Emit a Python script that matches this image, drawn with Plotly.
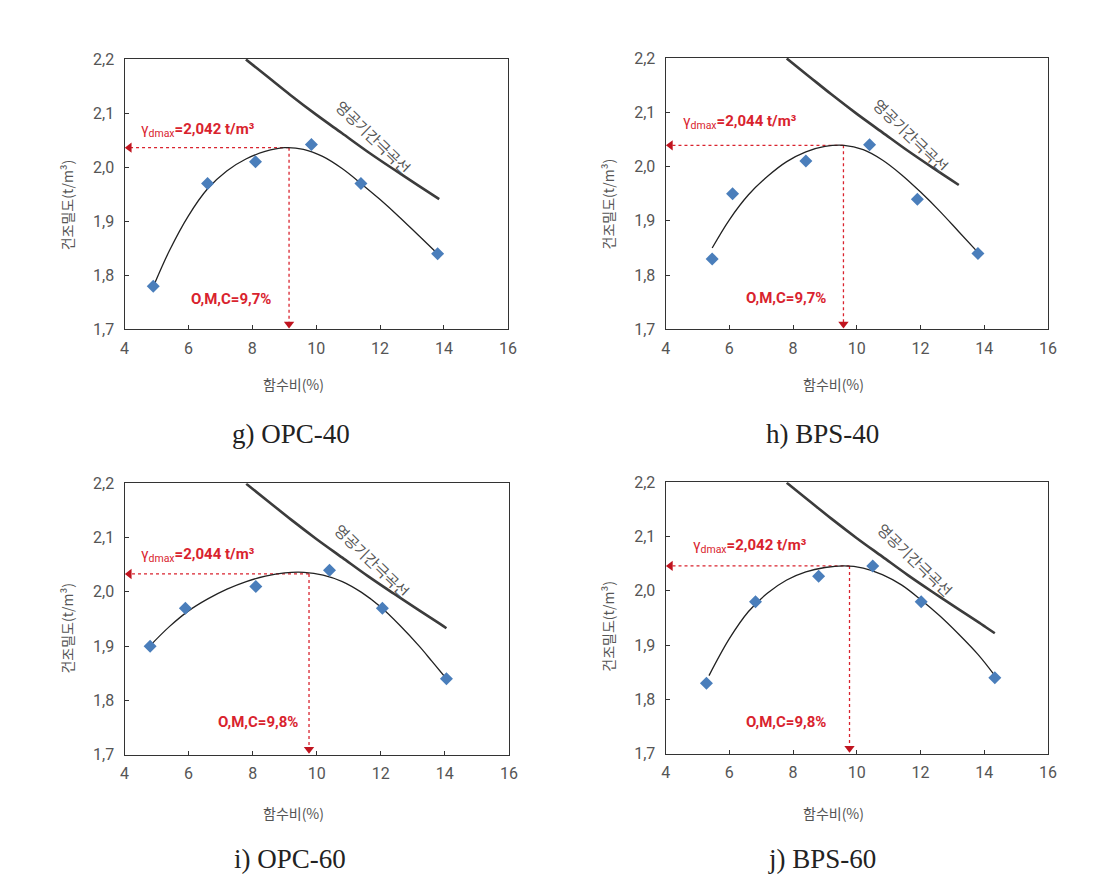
import plotly.graph_objects as go

# ---------------- data ----------------
x_tick_vals = [4, 6, 8, 10, 12, 14, 16]
y_tick_vals = [1.7, 1.8, 1.9, 2.0, 2.1, 2.2]
y_tick_text = ["1,7", "1,8", "1,9", "2,0", "2,1", "2,2"]

panel_names = ["g) OPC-40", "h) BPS-40", "i) OPC-60", "j) BPS-60"]
gamma_labels = ["2,042", "2,044", "2,044", "2,042"]
omc_labels = ["O,M,C=9,7%", "O,M,C=9,7%", "O,M,C=9,8%", "O,M,C=9,8%"]

# measured points (water content %, dry density t/m3)
g_w = [4.9, 6.6, 8.1, 9.85, 11.4, 13.8]
g_d = [1.78, 1.97, 2.01, 2.042, 1.97, 1.84]
h_w = [5.46, 6.1, 8.4, 10.4, 11.9, 13.8]
h_d = [1.83, 1.95, 2.01, 2.04, 1.94, 1.84]
i_w = [4.8, 5.9, 8.1, 10.4, 12.05, 14.05]
i_d = [1.90, 1.97, 2.01, 2.04, 1.97, 1.84]
j_w = [5.28, 6.82, 8.8, 10.5, 12.02, 14.33]
j_d = [1.83, 1.98, 2.027, 2.046, 1.98, 1.84]

# fitted compaction curves
g_fit_w = [4.9, 5.4, 6.0, 6.6, 7.2, 7.8, 8.4, 9.0, 9.6, 10.2, 10.8, 11.4, 12.0, 12.6, 13.2, 13.8]
g_fit_d = [1.779, 1.845, 1.910, 1.960, 1.993, 2.015, 2.029, 2.036, 2.033, 2.020, 1.998, 1.970, 1.940, 1.908, 1.874, 1.840]
h_fit_w = [5.46, 6.0, 6.6, 7.2, 7.8, 8.4, 9.0, 9.6, 10.2, 10.8, 11.4, 12.0, 12.6, 13.2, 13.8]
h_fit_d = [1.850, 1.902, 1.948, 1.982, 2.009, 2.027, 2.037, 2.039, 2.031, 2.012, 1.985, 1.953, 1.918, 1.880, 1.842]
i_fit_w = [4.8, 5.4, 6.0, 6.6, 7.2, 7.8, 8.4, 9.0, 9.6, 10.2, 10.8, 11.4, 12.0, 12.6, 13.2, 13.6, 14.05]
i_fit_d = [1.901, 1.936, 1.965, 1.987, 2.005, 2.019, 2.029, 2.035, 2.036, 2.031, 2.019, 1.999, 1.972, 1.938, 1.900, 1.872, 1.840]
j_fit_w = [5.36, 6.0, 6.6, 7.2, 7.8, 8.4, 9.0, 9.6, 10.2, 10.8, 11.4, 12.0, 12.6, 13.2, 13.8, 14.33]
j_fit_d = [1.844, 1.912, 1.962, 1.996, 2.020, 2.035, 2.043, 2.046, 2.042, 2.030, 2.011, 1.984, 1.954, 1.920, 1.883, 1.844]

# zero-air-void curve
zav_w = [7.8, 8.5, 9.2, 10.0, 10.8, 11.6, 12.4, 13.2, 13.85, 14.05, 14.33]
zav_d = [2.199, 2.166, 2.133, 2.097, 2.063, 2.029, 1.997, 1.966, 1.941, 1.933, 1.922]
zav_end = [13.85, 13.8, 14.05, 14.33]

# reading of max dry density / OMC guides
peak_w = [9.15, 9.58, 9.76, 9.77]
peak_d = [2.036, 2.039, 2.033, 2.046]

# ---------------- layout geometry (target pixel positions) ----------------
W, H = 1113, 881
x_dom_px = [(123, 507), (665, 1048), (123, 508), (665, 1048)]
y_dom_px = [(57, 328), (56, 328), (482, 754), (481, 753)]
caption_px = [(290, 433), (822, 433), (289, 858), (822, 858)]
ytitle_px = [(65, 203), (607, 202), (65, 627), (607, 625)]
xtitle_px = [(292, 383), (833, 383), (292, 812), (833, 812)]
gamma_pos = [(4.45, 2.068), (4.47, 2.082), (4.44, 2.067), (4.78, 2.083)]
omc_pos = [(7.32, 1.756), (7.79, 1.758), (8.18, 1.760), (7.77, 1.758)]
zav_lbl_pos = [(11.78, 2.056), (11.72, 2.058), (11.74, 2.058), (11.83, 2.058)]

# compensation for the observed page-capture scaling
SX, OX = 0.989, 3.3
SY, OY = 0.98, 7.0


def fx(px):
    return min(max((px - OX) / SX / W, 0.0), 1.0)


def fy(py):
    return min(max(1 - (py - OY) / SY / H, 0.0), 1.0)


pts_w = [g_w, h_w, i_w, j_w]
pts_d = [g_d, h_d, i_d, j_d]
fit_w = [g_fit_w, h_fit_w, i_fit_w, j_fit_w]
fit_d = [g_fit_d, h_fit_d, i_fit_d, j_fit_d]

RED = "#d9232e"
KFONT = "Noto Sans CJK KR"

fig = go.Figure()
annotations = []
layout = dict(
    width=W, height=H, margin=dict(l=0, r=0, t=0, b=0),
    paper_bgcolor="white", plot_bgcolor="white", showlegend=False,
)

for k in range(4):
    sfx = "" if k == 0 else str(k + 1)
    xa, ya = "x" + sfx, "y" + sfx
    x0, x1 = x_dom_px[k]
    yt, yb = y_dom_px[k]
    layout["xaxis" + sfx] = dict(
        domain=[fx(x0), fx(x1)], range=[4, 16], anchor=ya,
        tickvals=x_tick_vals, ticks="inside", ticklen=4, tickcolor="#333",
        ticklabelstandoff=4,
        showgrid=False, zeroline=False, showline=True, mirror=True,
        linecolor="#333", linewidth=1.3,
        tickfont=dict(family="Roboto", size=16, color="#555"),
    )
    layout["yaxis" + sfx] = dict(
        domain=[fy(yb), fy(yt)], range=[1.7, 2.2], anchor=xa,
        tickvals=y_tick_vals, ticktext=y_tick_text, ticks="inside", ticklen=4,
        tickcolor="#333", ticklabelstandoff=6,
        showgrid=False, zeroline=False, showline=True, mirror=True,
        linecolor="#333", linewidth=1.3,
        tickfont=dict(family="Roboto", size=16, color="#555"),
    )

    # zero-air-void curve
    zw = [w for w in zav_w if w <= zav_end[k]]
    zd = [d for w, d in zip(zav_w, zav_d) if w <= zav_end[k]]
    fig.add_trace(go.Scatter(x=zw, y=zd, mode="lines", xaxis=xa, yaxis=ya,
                             line=dict(color="#3c3c3c", width=2.6, shape="spline"),
                             hoverinfo="skip"))
    # red dotted guides
    fig.add_trace(go.Scatter(x=[peak_w[k], 4.05], y=[peak_d[k], peak_d[k]], mode="lines",
                             xaxis=xa, yaxis=ya,
                             line=dict(color=RED, width=1.3, dash="dot"), hoverinfo="skip"))
    fig.add_trace(go.Scatter(x=[peak_w[k], peak_w[k]], y=[peak_d[k], 1.705], mode="lines",
                             xaxis=xa, yaxis=ya,
                             line=dict(color=RED, width=1.3, dash="dot"), hoverinfo="skip"))
    fig.add_trace(go.Scatter(x=[4.15], y=[peak_d[k]], mode="markers", xaxis=xa, yaxis=ya,
                             marker=dict(symbol="triangle-left", size=9, color="#c0141f"),
                             hoverinfo="skip"))
    fig.add_trace(go.Scatter(x=[peak_w[k]], y=[1.71], mode="markers", xaxis=xa, yaxis=ya,
                             marker=dict(symbol="triangle-down", size=9, color="#c0141f"),
                             hoverinfo="skip"))
    # fitted curve
    fig.add_trace(go.Scatter(x=fit_w[k], y=fit_d[k], mode="lines", xaxis=xa, yaxis=ya,
                             line=dict(color="#222", width=1.3, shape="spline", smoothing=1.0),
                             hoverinfo="skip"))
    # measured points
    fig.add_trace(go.Scatter(x=pts_w[k], y=pts_d[k], mode="markers", xaxis=xa, yaxis=ya,
                             marker=dict(symbol="diamond", size=10, color="#4a7ebb"),
                             hoverinfo="skip"))

    # texts
    gx, gy = gamma_pos[k]
    annotations.append(dict(
        x=gx, y=gy, xref=xa, yref=ya, xanchor="left", yanchor="middle", showarrow=False,
        text="γ<sub>dmax</sub><b>=" + gamma_labels[k] + " t/m³</b>",
        font=dict(family="Roboto", size=15, color=RED)))
    ox, oy = omc_pos[k]
    annotations.append(dict(
        x=ox, y=oy, xref=xa, yref=ya, xanchor="center", yanchor="middle", showarrow=False,
        text="<b>" + omc_labels[k] + "</b>", font=dict(family="Roboto", size=15, color=RED)))
    zx, zy = zav_lbl_pos[k]
    annotations.append(dict(
        x=zx, y=zy, xref=xa, yref=ya, xanchor="center", yanchor="middle",
        showarrow=False, textangle=44,
        text="영공기간극곡선", font=dict(family=KFONT, size=15, color="#555")))
    # axis titles
    tx, ty = ytitle_px[k]
    annotations.append(dict(
        x=fx(tx), y=fy(ty), xref="paper", yref="paper", showarrow=False, textangle=-90,
        xanchor="center", yanchor="middle",
        text="건조밀도(t/m³)", font=dict(family=KFONT, size=14, color="#555")))
    tx, ty = xtitle_px[k]
    annotations.append(dict(
        x=fx(tx), y=fy(ty), xref="paper", yref="paper", showarrow=False,
        xanchor="center", yanchor="middle",
        text="함수비(%)", font=dict(family=KFONT, size=14, color="#555")))
    cx, cy = caption_px[k]
    annotations.append(dict(
        x=fx(cx), y=fy(cy), xref="paper", yref="paper", showarrow=False,
        xanchor="center", yanchor="middle",
        text=panel_names[k], font=dict(family="Liberation Serif", size=27, color="#222")))

layout["annotations"] = annotations
fig.update_layout(**layout)
fig.write_html(
    "out.html",
    config={"displayModeBar": False},
    post_script=("document.documentElement.style.margin='0';"
                 "document.documentElement.style.overflow='hidden';"
                 "document.body.style.margin='0';"
                 "document.body.style.overflow='hidden';"),
)
